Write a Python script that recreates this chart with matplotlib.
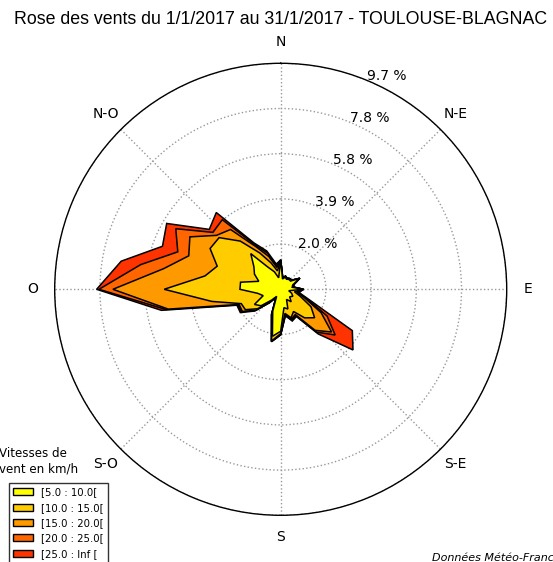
import numpy as np
import matplotlib
matplotlib.use("Agg")
import matplotlib.pyplot as plt
from matplotlib.patches import Patch

# Wind directions in degrees (0 = north, clockwise), 10 degree sectors
directions = np.arange(0, 360, 10)

speed_classes = ['[5.0 : 10.0[', '[10.0 : 15.0[', '[15.0 : 20.0[',
                 '[20.0 : 25.0[', '[25.0 : Inf [']
class_colors = ['#ffff00', '#ffcc00', '#ff9900', '#ff6600', '#ff3300']

# Frequency (%) per direction for each speed class (km/h)
freq_5_10 = [1.26, 0.45, 0.55, 0.50, 0.55, 0.55, 0.92, 0.55, 0.50, 0.95,
             0.35, 0.50, 0.60, 0.50, 0.70, 0.50, 0.90, 0.80, 1.80, 2.05,
             1.00, 0.35, 0.60, 1.10, 1.30, 0.80, 1.00, 1.75, 1.75, 1.00,
             1.30, 1.50, 2.00, 1.10, 0.80, 0.50]
freq_10_15 = [0.00, 0.05, 0.05, 0.05, 0.05, 0.05, 0.03, 0.05, 0.05, 0.03,
              0.25, 0.40, 0.90, 1.40, 0.90, 0.60, 0.40, 0.25, 0.10, 0.20,
              0.10, 0.05, 0.10, 0.20, 0.45, 1.00, 2.00, 3.25, 1.55, 1.90,
              2.20, 1.95, 0.70, 0.70, 0.40, 0.30]
freq_15_20 = [0.00, 0.00, 0.00, 0.00, 0.00, 0.00, 0.00, 0.00, 0.00, 0.00,
              0.10, 0.20, 0.50, 0.95, 0.70, 0.15, 0.05, 0.05, 0.05, 0.03,
              0.05, 0.00, 0.05, 0.10, 0.15, 0.10, 1.90, 2.20, 1.80, 1.30,
              1.00, 0.15, 0.65, 0.30, 0.30, 0.15]
freq_20_25 = [0.00, 0.00, 0.00, 0.00, 0.00, 0.00, 0.00, 0.00, 0.00, 0.00,
              0.05, 0.10, 0.30, 0.20, 0.10, 0.05, 0.05, 0.05, 0.00, 0.00,
              0.00, 0.00, 0.00, 0.00, 0.05, 0.05, 0.10, 0.60, 1.00, 0.50,
              0.70, 0.20, 0.55, 0.10, 0.15, 0.05]
freq_25_inf = [0.00, 0.00, 0.00, 0.00, 0.00, 0.00, 0.00, 0.00, 0.00, 0.00,
               0.05, 0.10, 1.25, 1.00, 0.10, 0.05, 0.05, 0.00, 0.00, 0.00,
               0.00, 0.00, 0.00, 0.05, 0.05, 0.05, 0.20, 0.10, 0.85, 0.70,
               0.45, 0.20, 0.40, 0.10, 0.10, 0.10]

ring_values = [1.94, 3.88, 5.82, 7.76, 9.7]
ring_labels = ['2.0 %', '3.9 %', '5.8 %', '7.8 %', '9.7 %']
compass_labels = ['N', 'N-E', 'E', 'S-E', 'S', 'S-O', 'O', 'N-O']

title = 'Rose des vents du 1/1/2017 au 31/1/2017 - TOULOUSE-BLAGNAC'
source = 'Données Météo-France'

fig = plt.figure(figsize=(5.53, 5.62), dpi=100)
ax = fig.add_axes([0.0989, 0.0831, 0.8174, 0.8043], projection='polar')
ax.set_theta_zero_location('N')
ax.set_theta_direction(-1)

# cumulative stacks, drawn from the outermost class inwards
freqs = np.array([freq_5_10, freq_10_15, freq_15_20, freq_20_25, freq_25_inf])
cumul = np.cumsum(freqs, axis=0)
theta = np.deg2rad(np.append(directions, directions[0]))
for i in range(len(speed_classes) - 1, -1, -1):
    r = np.append(cumul[i], cumul[i][0])
    ax.fill(theta, r, facecolor=class_colors[i], edgecolor='black',
            linewidth=1.1, zorder=2 + (4 - i) * 0.01)

ax.set_ylim(0, ring_values[-1])
ax.set_rgrids(ring_values, labels=ring_labels, angle=22.5, fontsize=10)
for lbl in ax.get_yticklabels():
    lbl.set_ha('left')
    lbl.set_va('baseline')
ax.set_thetagrids(np.arange(0, 360, 45), labels=compass_labels, fontsize=10)
ax.tick_params(axis='x', pad=5)
ax.grid(True, color='#999999', linestyle=':', linewidth=1.0)
ax.spines['polar'].set_linewidth(1.0)
ax.set_axisbelow(True)

fig.text(0.5076, 1 - 20 / 562, title, ha='center', va='center',
         fontsize=12.8, family='Liberation Sans')

# speed legend, partly outside the saved area like the original
fig.text(-1 / 553, 1 - 461 / 562, 'Vitesses de\nvent en km/h', ha='left',
         va='center', fontsize=8.6, linespacing=1.2)
handles = [Patch(facecolor=c, edgecolor='black', linewidth=1.0) for c in class_colors]
leg = fig.legend(handles, speed_classes, loc='upper left',
                 bbox_to_anchor=(9 / 553, 1 - 483.3 / 562), borderaxespad=0,
                 fontsize=7.3, labelspacing=0.53, fancybox=False,
                 framealpha=1, edgecolor='0.2', handlelength=2.0,
                 handleheight=0.7)
leg.get_frame().set_linewidth(1.0)

fig.text(432 / 553, 4 / 562, source, ha='left', va='center',
         fontsize=8, style='italic')

fig.savefig('out.png', dpi=100)
